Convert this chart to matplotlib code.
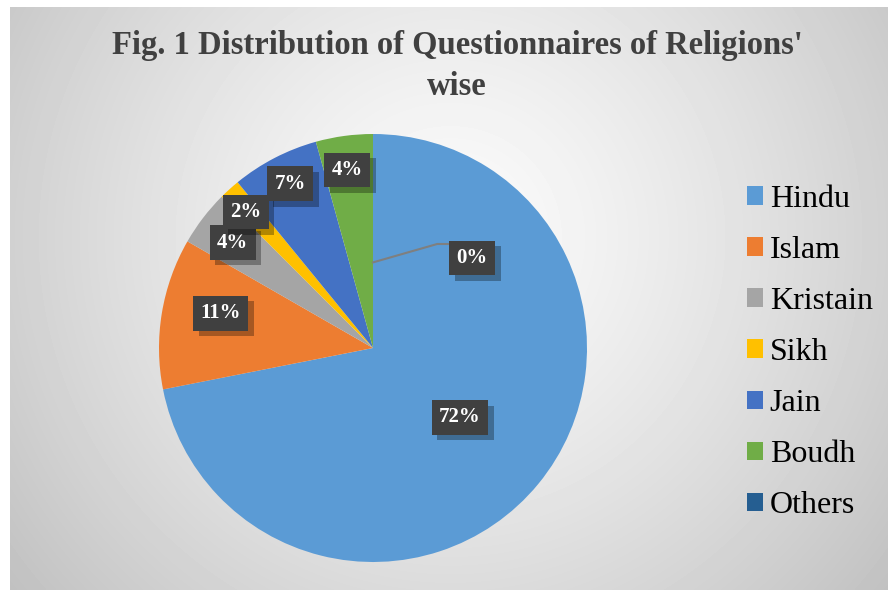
import numpy as np
import matplotlib.pyplot as plt
import matplotlib.patheffects as pe

religions = ['Hindu', 'Islam', 'Kristain', 'Sikh', 'Jain', 'Boudh', 'Others']
shares = [71.9, 11.4, 4.2, 1.6, 6.6, 4.3, 0.0]
colors = ['#5B9BD5', '#ED7D31', '#A5A5A5', '#FFC000', '#4472C4', '#70AD47', '#255E91']
title = "Fig. 1 Distribution of Questionnaires of Religions'\nwise"

# label placement (radius fraction, angle tweak in degrees)
lab_r = [0.52, 0.73, 0.82, 0.87, 0.86, 0.84]
lab_da = [0.8, -3.5, 0.5, 1.0, -0.6, 0.5]

serif = ['Liberation Serif', 'DejaVu Serif']

fig = plt.figure(figsize=(8.88, 5.90), dpi=100)
fig.patch.set_facecolor('white')

# gray radial gradient background
bg = fig.add_axes([10/888, 0, 878/888, 583/590])
h, w = 583, 878
yy, xx = np.mgrid[0:h, 0:w]
d = np.hypot(xx - 440, yy - 230)
d = d / d.max()
bg.imshow(0.985 - 0.23 * d**1.3, cmap='gray', vmin=0, vmax=1, aspect='auto')
bg.axis('off')

ax = fig.add_axes([(373-214)/888, (590-348-214)/590, 428/888, 428/590])
wedges, texts, autotexts = ax.pie(shares, colors=colors, startangle=90, counterclock=False,
                                  autopct='%.0f%%', wedgeprops=dict(linewidth=0))
ax.set_xlim(-1, 1)
ax.set_ylim(-1, 1)

for i, (wd, t) in enumerate(zip(wedges, autotexts)):
    if i < len(lab_r):
        ang = np.deg2rad((wd.theta1 + wd.theta2) / 2 + lab_da[i])
        x, y = lab_r[i] * np.cos(ang), lab_r[i] * np.sin(ang)
    else:
        # Others: 0% with leader line
        ang = np.deg2rad((wd.theta1 + wd.theta2) / 2)
        x0, y0 = 0.40 * np.cos(ang), 0.40 * np.sin(ang)
        ax.plot([x0, 0.30, 0.35], [y0, 0.486, 0.486], color='#7f7f7f', lw=1.5, zorder=3)
        x, y = 0.463, 0.42
    t.set_position((x, y))
    t.set_color('white')
    t.set_fontsize(15)
    t.set_fontweight('bold')
    t.set_family(serif)
    t.set_ha('center')
    t.set_va('center')
    t.set_zorder(5)
    t.set_bbox(dict(boxstyle='square,pad=0.35', facecolor='#404040', edgecolor='none'))
    t.get_bbox_patch().set_path_effects([
        pe.SimplePatchShadow(offset=(4, -4), shadow_rgbFace='black', alpha=0.3), pe.Normal()])

fig.text(457/888, 1 - 30/590, title, ha='center', va='top', fontsize=23.5,
         fontweight='bold', color='#404040', family=serif, linespacing=1.4)

fig.legend(wedges, religions, loc='upper left', bbox_to_anchor=(734/888, 1 - 172/590),
           frameon=False, prop=dict(family=serif, size=23), handlelength=0.5,
           handleheight=0.5, handletextpad=0.22, labelspacing=0.69, borderaxespad=0)

fig.savefig('out.png', dpi=100)
